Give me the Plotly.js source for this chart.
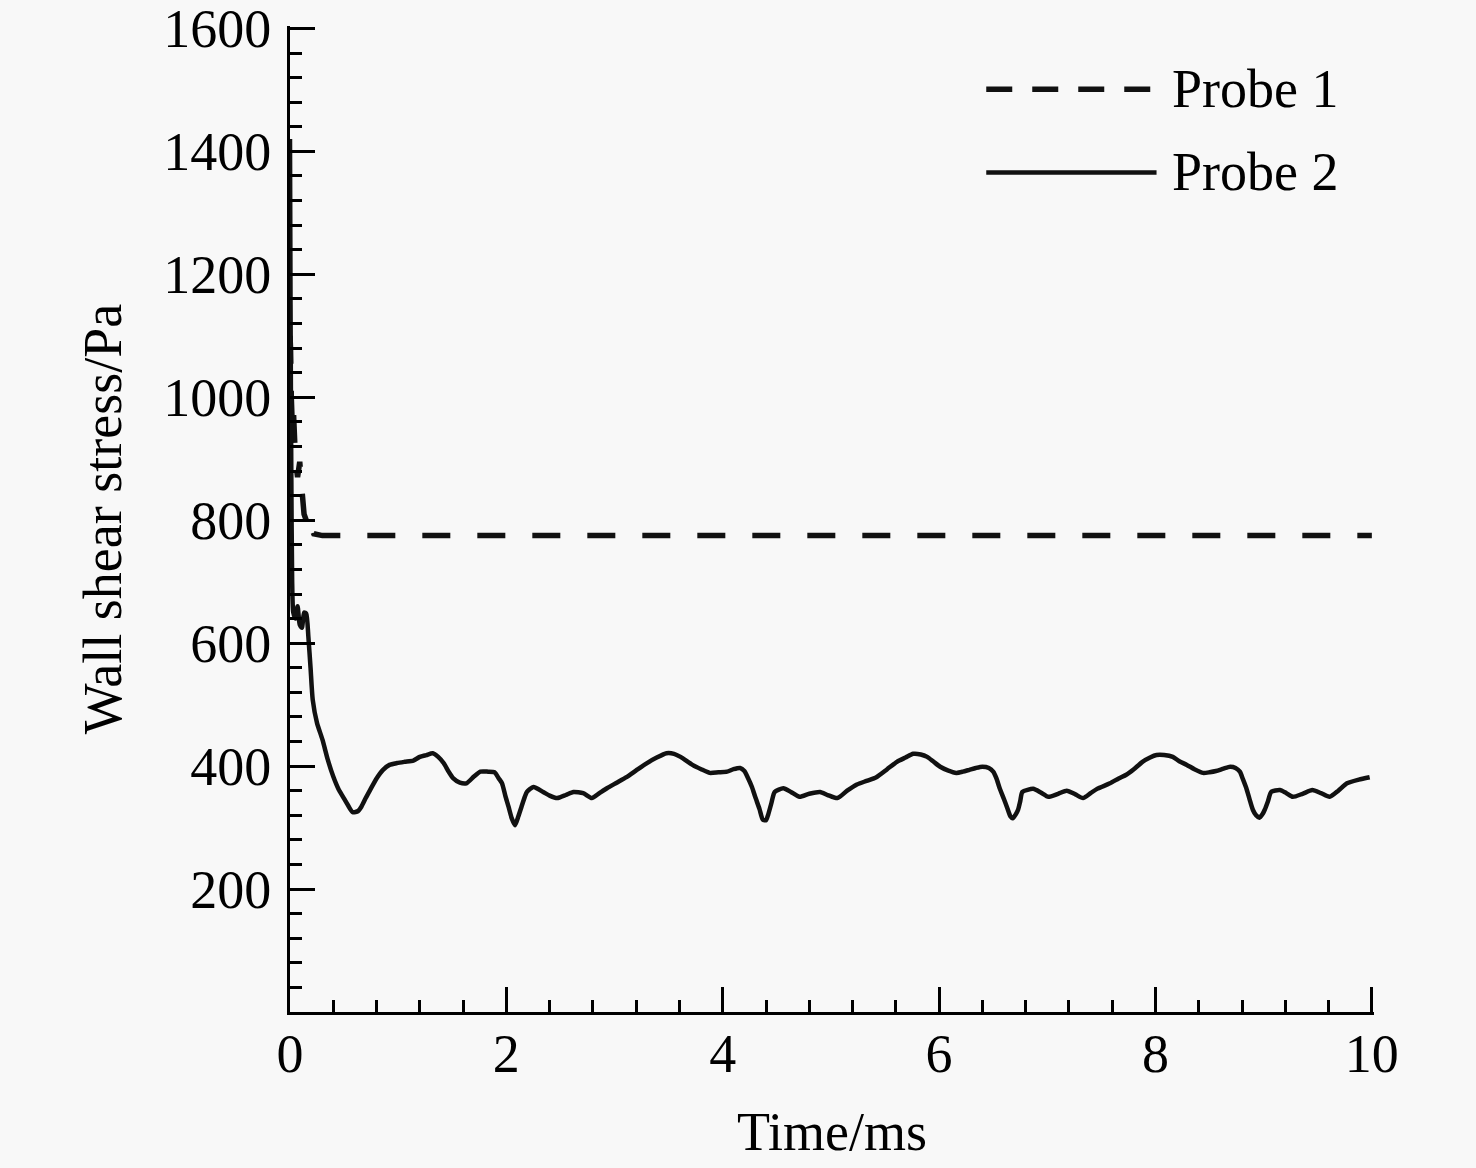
<!DOCTYPE html>
<html>
<head>
<meta charset="utf-8">
<script src="https://cdn.plot.ly/plotly-3.0.1.min.js"></script>
<style>
  html, body { margin: 0; padding: 0; background: #f8f8f8; }
  #chart { width: 1476px; height: 1168px; }
</style>
</head>
<body>
<div id="chart"></div>
<script>
// values
var probe1Time = [0, 0.005, 0.012, 0.02, 0.03, 0.04, 0.05, 0.07, 0.09, 0.11, 0.13, 0.15, 0.17, 0.19, 0.22, 0.3, 2, 4, 6, 8, 10];
var probe1Stress = [1100, 1080, 1000, 960, 985, 930, 900, 870, 895, 850, 810, 800, 812, 790, 778, 775, 775, 775, 775, 775, 775];

var probe2Time = [0, 0.005, 0.012, 0.02, 0.03, 0.05, 0.07, 0.09, 0.11, 0.13, 0.15, 0.17, 0.19, 0.21, 0.25,
    0.30, 0.35, 0.40, 0.45, 0.49, 0.54, 0.58, 0.63, 0.66, 0.70, 0.74, 0.80, 0.86, 0.92, 0.99, 1.06, 1.14, 1.20,
    1.26, 1.32, 1.37, 1.42, 1.47, 1.51, 1.57, 1.63, 1.70, 1.76, 1.83, 1.89, 1.93, 1.96, 1.99, 2.02, 2.05, 2.08,
    2.11, 2.14, 2.17, 2.19, 2.25, 2.34, 2.40, 2.47, 2.55, 2.62, 2.71, 2.79, 2.86, 2.93, 3.02, 3.11, 3.20, 3.30,
    3.39, 3.48, 3.55, 3.61, 3.72, 3.80, 3.88, 3.96, 4.04, 4.10, 4.16, 4.20, 4.23, 4.27, 4.30, 4.34, 4.37, 4.40,
    4.42, 4.45, 4.48, 4.56, 4.63, 4.71, 4.80, 4.90, 4.97, 5.06, 5.15, 5.24, 5.33, 5.42, 5.52, 5.61, 5.69, 5.76,
    5.83, 5.89, 5.95, 6.01, 6.08, 6.16, 6.22, 6.28, 6.34, 6.40, 6.46, 6.50, 6.53, 6.56, 6.60, 6.63, 6.66, 6.68,
    6.71, 6.73, 6.75, 6.77, 6.87, 6.94, 7.01, 7.10, 7.18, 7.26, 7.33, 7.40, 7.46, 7.58, 7.66, 7.73, 7.80, 7.88,
    7.95, 8.01, 8.08, 8.16, 8.22, 8.29, 8.36, 8.44, 8.50, 8.56, 8.63, 8.69, 8.74, 8.78, 8.81, 8.84, 8.87, 8.90,
    8.93, 8.96, 8.99, 9.01, 9.04, 9.07, 9.15, 9.21, 9.27, 9.36, 9.45, 9.53, 9.61, 9.69, 9.77, 9.88, 9.98];
var probe2Stress = [1420, 1150, 880, 700, 650, 640, 660, 630, 625, 650, 648, 610, 560, 508, 470,
    443, 410, 383, 362, 350, 335, 325, 327, 334, 348, 361, 380, 394, 402, 405, 407, 409, 415,
    418, 421, 415, 405, 390, 380, 373, 372, 383, 391, 391, 390, 380, 372, 352, 334, 315, 304,
    318, 334, 350, 358, 366, 358, 352, 348, 353, 358, 356, 348, 356, 364, 373, 382, 393, 405,
    414, 421, 420, 415, 402, 395, 389, 390, 391, 395, 397, 392, 382, 366, 350, 330, 313, 312,
    321, 340, 358, 364, 358, 350, 355, 358, 353, 348, 360, 370, 376, 382, 395, 407, 414, 420,
    419, 415, 407, 399, 393, 389, 391, 394, 397, 399, 397, 391, 380, 364, 346, 332, 318, 315,
    322, 329, 343, 358, 363, 357, 350, 355, 360, 354, 348, 356, 363, 372, 380, 386, 395, 407,
    414, 418, 418, 415, 408, 402, 395, 389, 390, 392, 396, 399, 397, 391, 378, 364, 346, 329,
    320, 316, 322, 329, 343, 358, 361, 356, 350, 355, 361, 356, 350, 360, 372, 378, 382];

var xTicks = [0, 2, 4, 6, 8, 10];
var yTicks = [200, 400, 600, 800, 1000, 1200, 1400, 1600];
var seriesNames = ['Probe 1', 'Probe 2'];

var FONT = 'Liberation Serif, Times New Roman, serif';
var DASH = '28px,27px';

function drawChart() {
    var LOC = document.getElementById('chart');

    var trace1 = {
        x: probe1Time,
        y: probe1Stress,
        name: seriesNames[0],
        type: 'scatter',
        mode: 'lines',
        line: {color: '#111', width: 5.5, dash: DASH}
    };

    var trace2 = {
        x: probe2Time,
        y: probe2Stress,
        name: seriesNames[1],
        type: 'scatter',
        mode: 'lines',
        line: {color: '#111', width: 4.5, shape: 'spline', smoothing: 0.6}
    };

    var axisCommon = {
        showgrid: false,
        zeroline: false,
        showline: true,
        linecolor: '#000',
        linewidth: 3,
        ticks: 'inside',
        ticklen: 25,
        tickwidth: 3,
        tickcolor: '#000',
        ticklabeloverflow: 'allow',
        tickfont: {family: FONT, size: 54, color: '#000'}
    };

    var layout = {
        width: 1476,
        height: 1168,
        paper_bgcolor: '#f8f8f8',
        plot_bgcolor: '#f8f8f8',
        margin: {l: 290, r: 102, t: 26, b: 156},
        showlegend: false,
        xaxis: Object.assign({}, axisCommon, {
            range: [0, 10.02],
            tickmode: 'array',
            tickvals: xTicks,
            ticktext: xTicks.map(String),
            ticklabelstandoff: -8,
            minor: {tickmode: 'linear', tick0: 0, dtick: 0.4, ticks: 'inside', ticklen: 12, tickwidth: 3, tickcolor: '#000'},
            title: {text: 'Time/ms', font: {family: FONT, size: 54, color: '#000'}, standoff: 30}
        }),
        yaxis: Object.assign({}, axisCommon, {
            range: [0, 1604],
            tickmode: 'array',
            tickvals: yTicks,
            ticktext: yTicks.map(String),
            ticklabelstandoff: 5,
            minor: {tickmode: 'linear', tick0: 0, dtick: 40, ticks: 'inside', ticklen: 12, tickwidth: 3, tickcolor: '#000'},
            title: {text: 'Wall shear stress/Pa', font: {family: FONT, size: 54, color: '#000'}, standoff: 25}
        }),
        // legend drawn by hand so the line samples can be long like the original
        shapes: [
            {type: 'line', xref: 'paper', yref: 'paper', x0: 0.6423, x1: 0.7994, y0: 0.9359, y1: 0.9359,
             line: {color: '#111', width: 5.5, dash: '26px,20px'}},
            {type: 'line', xref: 'paper', yref: 'paper', x0: 0.6423, x1: 0.7994, y0: 0.8515, y1: 0.8515,
             line: {color: '#111', width: 4.5}}
        ],
        annotations: [
            {xref: 'paper', yref: 'paper', x: 0.8115, y: 0.9359, xanchor: 'left', yanchor: 'middle',
             text: seriesNames[0], showarrow: false, font: {family: FONT, size: 54, color: '#000'}},
            {xref: 'paper', yref: 'paper', x: 0.8115, y: 0.8515, xanchor: 'left', yanchor: 'middle',
             text: seriesNames[1], showarrow: false, font: {family: FONT, size: 54, color: '#000'}}
        ]
    };

    Plotly.newPlot(LOC, [trace1, trace2], layout, {displayModeBar: false, staticPlot: true});
}

drawChart();
</script>
</body>
</html>
